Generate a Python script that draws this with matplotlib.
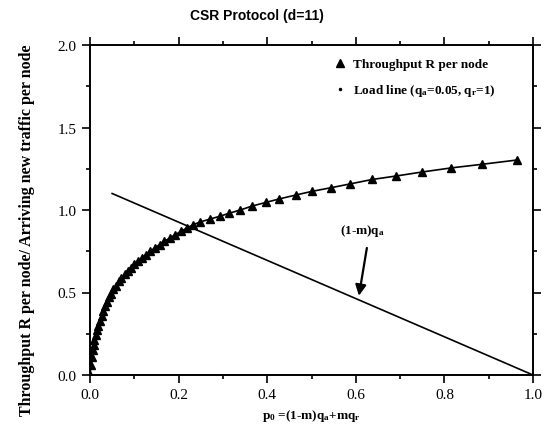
import matplotlib
matplotlib.use("Agg")
import matplotlib.pyplot as plt
from matplotlib.lines import Line2D
from matplotlib.ticker import MultipleLocator

plt.rcParams['font.family'] = ['Liberation Serif', 'DejaVu Serif']
plt.rcParams['mathtext.fontset'] = 'custom'
plt.rcParams['mathtext.rm'] = 'Liberation Serif:bold'
plt.rcParams['mathtext.it'] = 'Liberation Serif:bold'
plt.rcParams['mathtext.default'] = 'rm'

# Throughput R per node vs p0
p0 = [0.0, 0.002, 0.004, 0.006, 0.008, 0.010, 0.013, 0.016, 0.019, 0.022,
      0.026, 0.030, 0.034, 0.038, 0.043, 0.048, 0.053, 0.059, 0.065, 0.071,
      0.078, 0.085, 0.092, 0.100, 0.108, 0.117, 0.126, 0.136, 0.146, 0.157,
      0.168, 0.180, 0.192, 0.205, 0.218, 0.232, 0.248, 0.271, 0.293, 0.314,
      0.339, 0.366, 0.397, 0.427, 0.465, 0.501, 0.544, 0.587, 0.637, 0.691,
      0.749, 0.815, 0.885, 0.964]
throughput = [0.0, 0.06, 0.11, 0.15, 0.18, 0.21, 0.24, 0.27, 0.30, 0.33,
              0.36, 0.39, 0.42, 0.44, 0.47, 0.49, 0.52, 0.54, 0.57, 0.59,
              0.61, 0.63, 0.65, 0.67, 0.69, 0.71, 0.73, 0.75, 0.77, 0.79,
              0.81, 0.83, 0.85, 0.87, 0.89, 0.91, 0.927, 0.945, 0.962, 0.98,
              1.00, 1.024, 1.046, 1.067, 1.091, 1.113, 1.135, 1.158, 1.185, 1.206,
              1.230, 1.255, 1.277, 1.303]

# load line end points
load_x = [0.05, 1.0]
load_y = [1.10, 0.0]

fig = plt.figure(figsize=(5.45, 4.27), dpi=100)
ax = fig.add_axes([90/545, 1 - 376/427, 443/545, 330/427])

ax.plot(p0, throughput, color='black', lw=1.2, marker='^', markersize=5.5)
ax.plot(load_x, load_y, color='black', lw=1.2)

ax.set_xlim(0, 1.0)
ax.set_ylim(0, 2.0)
ax.xaxis.set_major_locator(MultipleLocator(0.2))
ax.xaxis.set_minor_locator(MultipleLocator(0.1))
ax.yaxis.set_major_locator(MultipleLocator(0.5))
ax.yaxis.set_minor_locator(MultipleLocator(0.25))
ax.xaxis.set_major_formatter(matplotlib.ticker.FormatStrFormatter('%.1f'))
ax.yaxis.set_major_formatter(matplotlib.ticker.FormatStrFormatter('%.1f'))
ax.tick_params(which='both', direction='out', top=True, right=True,
               labelsize=11, width=1.2)
ax.tick_params(which='major', length=6)
ax.tick_params(which='minor', length=3)
for s in ax.spines.values():
    s.set_linewidth(1.4)

# annotation with arrow
ax.text(0.615, 0.88, '(1-m)q$_a$', ha='center', va='center', fontsize=9.5,
        fontweight='bold')
ax.annotate('', xy=(0.607, 0.48), xytext=(0.625, 0.77),
            arrowprops=dict(arrowstyle='-|>', color='black', lw=1.6,
                            mutation_scale=16, shrinkA=0, shrinkB=0))

handles = [Line2D([], [], color='black', marker='^', ls='none', markersize=5.5),
           Line2D([], [], color='black', marker='.', ls='none', markersize=3)]
labels = ['Throughput R per node', 'Load line (q$_a$=0.05, q$_r$=1)']
leg = ax.legend(handles, labels, loc='upper left', bbox_to_anchor=(0.55, 0.96),
                frameon=False, handlelength=1.0, handletextpad=0.5,
                labelspacing=0.9, borderpad=0, borderaxespad=0,
                prop={'weight': 'bold', 'size': 9.5})

ax.set_xlabel('p$_0$ =(1-m)q$_a$+mq$_r$', fontsize=9.5, fontweight='bold', labelpad=4)
fig.text(27/545, 0.46, 'Throughput R per node/ Arriving new traffic per node',
         rotation=90, ha='center', va='center', fontsize=11.5, fontweight='bold')
fig.text(257/545, 1 - 16/427, 'CSR Protocol (d=11)', ha='center', va='center',
         fontsize=10, fontweight='bold',
         family=['Liberation Sans Narrow', 'Liberation Sans'])

fig.savefig('out.png', dpi=100)
